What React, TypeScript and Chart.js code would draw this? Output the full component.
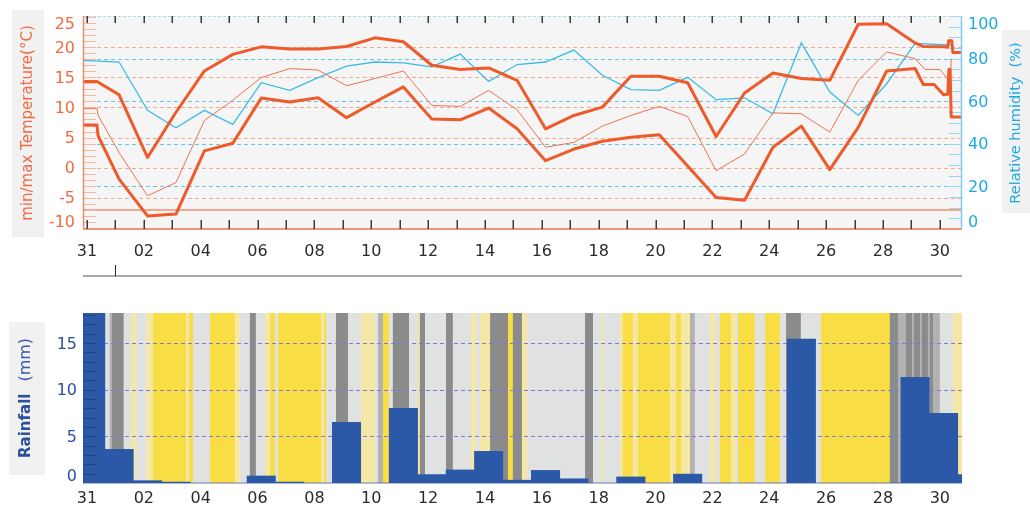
import React, { useEffect, useRef } from 'react';
import { Chart, registerables } from 'chart.js';

Chart.register(...registerables);
Chart.defaults.font.family = '"DejaVu Sans", sans-serif';

// ---------- axes ----------
const X_MIN = -0.14;
const X_MAX = 30.78;
const DAY_SHIFT = 0.13; // daily values sit slightly after the day tick
const tickLabels = ['31', '', '02', '', '04', '', '06', '', '08', '', '10', '', '12', '', '14', '', '16', '', '18', '', '20', '', '22', '', '24', '', '26', '', '28', '', '30'];
const monthStarts = [1];

const tempMin = -10.17;
const tempMax = 25.17;
const tempTicks = [25, 20, 15, 10, 5, 0, -5, -10];
const tempGrid = [20, 15, 10, 5, 0, -5];
const frostLine = -7;
const humTicks = [100, 80, 60, 40, 20, 0];
const humGrid = [80, 60, 40, 20];
const rainMax = 18.2;
const rainTicks = [15, 10, 5, 0];
const rainGrid = [15, 10, 5];

// ---------- temperature (°C), daily values from day 1 ----------
const tMaxDaily = [12.1, 1.7, 9.2, 16.05, 18.8, 20.05, 19.7, 19.7, 20.1, 21.55, 20.9, 17.0, 16.3, 16.55, 14.5, 6.45, 8.67, 10.05, 15.17, 15.17, 14.1, 5.17, 12.4, 15.7, 14.8, 14.5, 23.8, 23.9, 20.7];
const tMaxHeadX = [-0.14, 0.35];
const tMaxHeadY = [14.3, 14.3];
const tMaxTailX = [29.42, 30.13, 30.28, 30.31, 30.42, 30.46, 30.78];
const tMaxTailY = [20.1, 20.05, 20.0, 21.05, 21.05, 19.1, 19.1];

const tMinDaily = [-1.9, -8.0, -7.7, 2.8, 4.05, 11.55, 10.9, 11.6, 8.3, 10.9, 13.4, 8.1, 7.95, 9.9, 6.45, 1.17, 3.1, 4.4, 5.05, 5.45, 0.3, -4.95, -5.4, 3.4, 6.9, -0.33, 6.7, 16.05, 16.45];
const tMinHeadX = [-0.14, 0.35, 0.39];
const tMinHeadY = [7.1, 7.1, 5.3];
const tMinTailX = [29.42, 29.8, 30.13, 30.28, 30.32, 30.36, 30.4, 30.78];
const tMinTailY = [13.8, 13.8, 12.1, 12.2, 16.3, 16.3, 8.4, 8.4];

const tMeanDaily = [2.5, -4.67, -2.45, 7.83, 11.2, 14.95, 16.45, 16.2, 13.6, 14.8, 16.05, 10.33, 10.17, 12.83, 9.6, 3.4, 4.2, 6.9, 8.67, 10.17, 8.5, -0.5, 2.28, 9.1, 8.94, 5.9, 14.5, 19.2, 18.1];
const tMeanHeadX = [-0.14, 0.35, 0.39];
const tMeanHeadY = [9.8, 9.8, 8.7];
const tMeanTailX = [29.48, 30.0, 30.24, 30.38, 30.4];
const tMeanTailY = [16.3, 16.3, 14.95, 14.95, 18.1];

// ---------- relative humidity (%), daily values from day 1 ----------
const humDaily = [78.4, 55.7, 47.5, 55.7, 49.1, 68.7, 65.1, 71.1, 76.5, 78.4, 78.0, 76.1, 82.1, 69.3, 77.2, 78.4, 84.0, 72.2, 65.4, 65.1, 71.2, 60.7, 61.6, 54.1, 87.4, 64.3, 53.3, 68.2, 87.1, 86.6];
const humHeadX = [-0.14];
const humHeadY = [79.2];
const humTailX = [30.4];
const humTailY = [86.6];

// ---------- rainfall (mm), daily values from day 0 (31 Dec) ----------
const rainDaily = [19, 3.6, 0.25, 0.1, 0, 0, 0.75, 0.1, 0, 6.5, 0, 8.0, 0.9, 1.4, 3.4, 0.3, 1.35, 0.45, 0, 0.65, 0, 0.95, 0, 0, 0, 15.4, 0, 0, 0, 11.3, 7.45, 0.9];

// ---------- sunshine / cloud background stripes (start in days, type) ----------
const stripeStart = [-0.14, 0.80, 0.88, 1.29, 1.55, 1.72, 2.08, 2.32, 3.48, 3.59, 3.73, 4.33, 5.21, 5.38, 5.73, 5.94, 6.26, 6.44, 6.61, 6.72, 8.23, 8.34, 8.41, 8.76, 9.18, 9.64, 10.13, 10.24, 10.41, 10.62, 10.76, 11.33, 11.64, 11.71, 11.89, 12.63, 12.87, 13.51, 13.68, 13.82, 14.18, 14.81, 14.98, 15.30, 15.48, 17.52, 17.80, 18.08, 18.15, 18.75, 18.85, 19.20, 19.38, 20.51, 20.72, 20.89, 21.21, 21.38, 21.91, 22.09, 22.26, 22.65, 22.83, 22.90, 23.49, 23.85, 24.38, 24.59, 25.11, 25.82, 28.24, 28.53, 28.81, 29.02, 29.09, 29.30, 29.37, 29.58, 29.65, 29.76, 30.00, 30.46];
const stripeType = ['L', 'M', 'D', 'L', 'P', 'L', 'P', 'Y', 'P', 'Y', 'L', 'Y', 'P', 'L', 'D', 'L', 'P', 'Y', 'L', 'Y', 'P', 'Y', 'L', 'D', 'L', 'P', 'L', 'M', 'Y', 'L', 'D', 'L', 'P', 'D', 'L', 'D', 'L', 'P', 'L', 'P', 'D', 'Y', 'D', 'P', 'L', 'D', 'L', 'P', 'L', 'P', 'Y', 'P', 'Y', 'P', 'Y', 'P', 'M', 'L', 'P', 'L', 'Y', 'P', 'L', 'Y', 'L', 'Y', 'L', 'D', 'L', 'Y', 'D', 'M', 'D', 'M', 'D', 'M', 'D', 'M', 'D', 'M', 'L', 'P'];
const stripeColors: Record<string, string> = {
  Y: '#f9dd44',
  P: '#f5e8a6',
  L: '#e0e1e1',
  M: '#b2b2b2',
  D: '#8b8b8b',
};

// ---------- helpers ----------
type Pt = { x: number; y: number };
function series(hx: number[], hy: number[], daily: number[], firstDay: number, tx: number[], ty: number[]): Pt[] {
  const pts: Pt[] = [];
  hx.forEach((x, k) => pts.push({ x, y: hy[k] }));
  daily.forEach((y, k) => pts.push({ x: firstDay + k + DAY_SHIFT, y }));
  tx.forEach((x, k) => pts.push({ x, y: ty[k] }));
  return pts;
}

function hLine(ctx: CanvasRenderingContext2D, x0: number, x1: number, y: number) {
  ctx.beginPath();
  ctx.moveTo(x0, y);
  ctx.lineTo(x1, y);
  ctx.stroke();
}
function vLine(ctx: CanvasRenderingContext2D, x: number, y0: number, y1: number) {
  ctx.beginPath();
  ctx.moveTo(x, y0);
  ctx.lineTo(x, y1);
  ctx.stroke();
}

function yLabels(ctx: CanvasRenderingContext2D, scale: any, area: any, values: number[], x: number, align: CanvasTextAlign, color: string) {
  ctx.font = '16px "DejaVu Sans"';
  ctx.fillStyle = color;
  ctx.textAlign = align;
  ctx.textBaseline = 'middle';
  values.forEach((v) => {
    let y = scale.getPixelForValue(v) + 1.5;
    y = Math.max(area.top + 8.5, Math.min(area.bottom - 6, y));
    ctx.fillText(String(v), x, y);
  });
}

function xAxis(height: number, padding: number) {
  return {
    type: 'linear' as const,
    position: 'bottom' as const,
    min: X_MIN,
    max: X_MAX,
    offset: false,
    afterFit: (s: any) => {
      s.height = height;
    },
    ticks: {
      stepSize: 1,
      autoSkip: false,
      includeBounds: false,
      maxRotation: 0,
      minRotation: 0,
      padding,
      color: '#2b2b2b',
      font: { size: 16 },
      callback: (v: any) => tickLabels[Math.round(Number(v))] ?? '',
    },
    grid: { display: false, drawTicks: false, offset: false },
    border: { display: false },
  };
}

const topPlugin = {
  id: 'topDecor',
  beforeDatasetsDraw(chart: any) {
    const { ctx, chartArea: a, scales } = chart;
    const yT = scales.yT;
    const yH = scales.yH;
    ctx.save();
    ctx.fillStyle = '#f5f5f5';
    ctx.fillRect(a.left, a.top, a.right - a.left, a.bottom - a.top);
    ctx.lineWidth = 1;
    ctx.setLineDash([4, 3]);
    ctx.strokeStyle = '#f6a88e';
    tempGrid.forEach((v) => hLine(ctx, a.left, a.right, Math.round(yT.getPixelForValue(v)) + 0.5));
    ctx.strokeStyle = '#62c7ee';
    humGrid.forEach((v) => hLine(ctx, a.left, a.right, Math.round(yH.getPixelForValue(v)) + 0.5));
    ctx.setLineDash([]);
    ctx.strokeStyle = '#f6a68c';
    ctx.lineWidth = 2;
    hLine(ctx, a.left, a.right, yT.getPixelForValue(frostLine));
    // minor ticks
    ctx.lineWidth = 1;
    ctx.strokeStyle = '#f7b7a2';
    for (let v = Math.ceil(tempMin); v <= Math.floor(tempMax); v++) {
      hLine(ctx, a.left, a.left + 13, Math.round(yT.getPixelForValue(v)) + 0.5);
    }
    ctx.strokeStyle = '#95d5f0';
    for (let v = 0; v <= 100; v += 5) {
      hLine(ctx, a.right - 13, a.right, Math.round(yH.getPixelForValue(v)) + 0.5);
    }
    ctx.restore();
  },
  afterDraw(chart: any) {
    const { ctx, chartArea: a, scales } = chart;
    const x = scales.x;
    ctx.save();
    // borders
    ctx.lineWidth = 1;
    ctx.strokeStyle = '#b9d6e6';
    ctx.setLineDash([3, 2]);
    hLine(ctx, a.left, a.right, a.top + 0.5);
    ctx.setLineDash([]);
    ctx.strokeStyle = '#f4937a';
    ctx.lineWidth = 2;
    hLine(ctx, a.left, a.right, a.bottom);
    ctx.lineWidth = 1.5;
    ctx.strokeStyle = '#f4886a';
    vLine(ctx, a.left + 0.5, a.top, a.bottom);
    ctx.strokeStyle = '#7ccdef';
    vLine(ctx, a.right - 0.5, a.top, a.bottom);
    // day ticks
    ctx.strokeStyle = '#3a3a3a';
    ctx.lineWidth = 1.5;
    for (let d = 0; d < tickLabels.length; d++) {
      const px = Math.round(x.getPixelForValue(d)) + 0.25;
      vLine(ctx, px, a.top, a.top + 7);
      vLine(ctx, px, a.bottom - 9, a.bottom);
    }
    // tick labels
    yLabels(ctx, scales.yT, a, tempTicks, a.left - 8, 'right', '#f26a40');
    yLabels(ctx, scales.yH, a, humTicks, a.right + 6, 'left', '#1eaae6');
    // separator + month mark
    ctx.strokeStyle = '#a8a8a8';
    ctx.lineWidth = 2;
    hLine(ctx, a.left, a.right, 276);
    ctx.strokeStyle = '#2a2a2a';
    ctx.lineWidth = 1;
    monthStarts.forEach((d) => vLine(ctx, Math.round(x.getPixelForValue(d)) + 0.5, 265, 276));
    // title boxes
    ctx.fillStyle = '#f1f1f1';
    ctx.fillRect(12, 10, 32, 227);
    ctx.fillRect(1002, 30, 28, 183);
    ctx.textAlign = 'center';
    ctx.textBaseline = 'middle';
    ctx.save();
    ctx.translate(28, 123);
    ctx.rotate(-Math.PI / 2);
    ctx.font = '15px "DejaVu Sans"';
    ctx.fillStyle = '#f26a42';
    ctx.fillText('min/max Temperature(°C)', 0, 0);
    ctx.restore();
    ctx.save();
    ctx.translate(1016, 123);
    ctx.rotate(-Math.PI / 2);
    ctx.font = '14.5px "DejaVu Sans"';
    ctx.fillStyle = '#1eaae6';
    ctx.fillText('Relative humidity  (%)', 0, 0);
    ctx.restore();
    ctx.restore();
  },
};

const bottomPlugin = {
  id: 'bottomDecor',
  beforeDatasetsDraw(chart: any) {
    const { ctx, chartArea: a, scales } = chart;
    const x = scales.x;
    const y = scales.yR;
    ctx.save();
    ctx.beginPath();
    ctx.rect(a.left, a.top, a.right - a.left, a.bottom - a.top);
    ctx.clip();
    stripeStart.forEach((s, k) => {
      const e = k + 1 < stripeStart.length ? stripeStart[k + 1] : X_MAX;
      const x0 = x.getPixelForValue(s);
      const x1 = x.getPixelForValue(e);
      ctx.fillStyle = stripeColors[stripeType[k]] || stripeColors.L;
      ctx.fillRect(x0, a.top, x1 - x0 + 0.3, a.bottom - a.top);
    });
    ctx.lineWidth = 1;
    ctx.setLineDash([4, 3]);
    ctx.strokeStyle = '#7b7bd2';
    rainGrid.forEach((v) => hLine(ctx, a.left, a.right, Math.round(y.getPixelForValue(v)) + 0.5));
    ctx.setLineDash([]);
    ctx.restore();
  },
  afterDraw(chart: any) {
    const { ctx, chartArea: a, scales } = chart;
    const y = scales.yR;
    ctx.save();
    ctx.lineWidth = 1;
    ctx.strokeStyle = 'rgba(25,50,120,0.55)';
    for (let v = 1; v <= Math.floor(rainMax); v++) {
      hLine(ctx, a.left, a.left + 13, Math.round(y.getPixelForValue(v)) + 0.5);
    }
    ctx.strokeStyle = '#b4b8d8';
    hLine(ctx, a.left, a.right, a.bottom + 0.5);
    yLabels(ctx, y, a, rainTicks, a.left - 6, 'right', '#2c4f9e');
    // title box
    ctx.fillStyle = '#f1f1f1';
    ctx.fillRect(9, 32, 36, 153);
    ctx.save();
    ctx.translate(26, 168);
    ctx.rotate(-Math.PI / 2);
    ctx.textAlign = 'left';
    ctx.textBaseline = 'middle';
    ctx.font = 'bold 15px "DejaVu Sans"';
    ctx.fillStyle = '#2c4f9e';
    ctx.fillText('Rainfall', 0, 0);
    const w = ctx.measureText('Rainfall').width;
    ctx.font = '16px "DejaVu Sans"';
    ctx.fillStyle = '#3a5aa8';
    ctx.fillText('(mm)', w + 12, 0);
    ctx.restore();
    ctx.restore();
  },
};

export default function App() {
  const topRef = useRef<HTMLCanvasElement | null>(null);
  const botRef = useRef<HTMLCanvasElement | null>(null);

  useEffect(() => {
    if (!topRef.current || !botRef.current) return;
    const top = new Chart(topRef.current, {
      type: 'line',
      data: {
        datasets: [
          {
            label: 'max',
            data: series(tMaxHeadX, tMaxHeadY, tMaxDaily, 1, tMaxTailX, tMaxTailY),
            yAxisID: 'yT',
            borderColor: '#ef5a2a',
            borderWidth: 3,
            borderJoinStyle: 'round',
            pointRadius: 0,
            tension: 0,
            order: 1,
          },
          {
            label: 'min',
            data: series(tMinHeadX, tMinHeadY, tMinDaily, 1, tMinTailX, tMinTailY),
            yAxisID: 'yT',
            borderColor: '#ef5a2a',
            borderWidth: 3,
            borderJoinStyle: 'round',
            pointRadius: 0,
            tension: 0,
            order: 1,
          },
          {
            label: 'mean',
            data: series(tMeanHeadX, tMeanHeadY, tMeanDaily, 1, tMeanTailX, tMeanTailY),
            yAxisID: 'yT',
            borderColor: '#f07252',
            borderWidth: 1,
            pointRadius: 0,
            tension: 0,
            order: 2,
          },
          {
            label: 'humidity',
            data: series(humHeadX, humHeadY, humDaily, 1, humTailX, humTailY),
            yAxisID: 'yH',
            borderColor: '#3dbbe8',
            borderWidth: 1.3,
            pointRadius: 0,
            tension: 0,
            order: 3,
          },
        ],
      },
      options: {
        responsive: false,
        animation: false,
        devicePixelRatio: 1,
        layout: { padding: { top: 16, left: 0, right: 0, bottom: 0 } },
        plugins: { legend: { display: false }, tooltip: { enabled: false } },
        scales: {
          x: xAxis(61, 13),
          yT: {
            type: 'linear',
            position: 'left',
            min: tempMin,
            max: tempMax,
            afterFit: (s: any) => {
              s.width = 83;
            },
            ticks: { display: false },
            grid: { display: false },
            border: { display: false },
          },
          yH: {
            type: 'linear',
            position: 'right',
            min: 0,
            max: 100,
            afterFit: (s: any) => {
              s.width = 68;
            },
            ticks: { display: false },
            grid: { display: false },
            border: { display: false },
          },
        },
      } as any,
      plugins: [topPlugin],
    });

    const bottom = new Chart(botRef.current, {
      type: 'bar',
      data: {
        datasets: [
          {
            label: 'rain',
            data: rainDaily.map((v, i) => ({ x: i + DAY_SHIFT, y: v })),
            yAxisID: 'yR',
            backgroundColor: '#2b59a8',
            borderWidth: 0,
            barPercentage: 1,
            categoryPercentage: 1,
          },
        ],
      },
      options: {
        responsive: false,
        animation: false,
        devicePixelRatio: 1,
        layout: { padding: { top: 23, left: 0, right: 68, bottom: 0 } },
        plugins: { legend: { display: false }, tooltip: { enabled: false } },
        scales: {
          x: xAxis(22, 6),
          yR: {
            type: 'linear',
            position: 'left',
            min: 0,
            max: rainMax,
            afterFit: (s: any) => {
              s.width = 83;
            },
            ticks: { display: false },
            grid: { display: false },
            border: { display: false },
          },
        },
      } as any,
      plugins: [bottomPlugin],
    });

    return () => {
      top.destroy();
      bottom.destroy();
    };
  }, []);

  return (
    <div style={{ position: 'absolute', left: 0, top: 0, width: 1030, height: 505, background: '#fff' }}>
      <canvas ref={topRef} width={1030} height={290} style={{ position: 'absolute', left: 0, top: 0, width: 1030, height: 290 }} />
      <canvas ref={botRef} width={1030} height={215} style={{ position: 'absolute', left: 0, top: 290, width: 1030, height: 215 }} />
    </div>
  );
}
